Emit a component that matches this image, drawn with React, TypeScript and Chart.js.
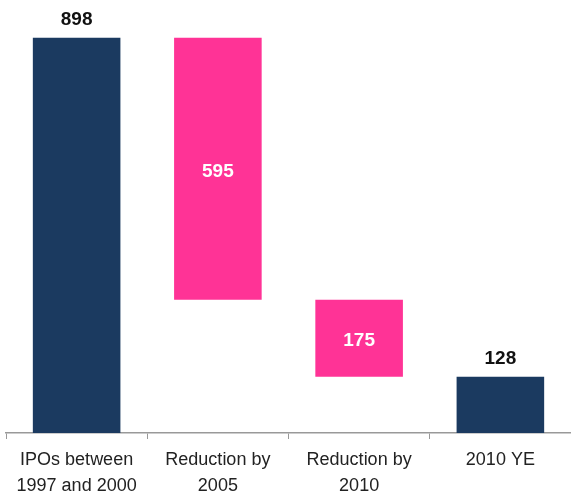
import React, { useEffect, useRef } from "react";
import { Chart, registerables } from "chart.js";
Chart.register(...registerables);

const categories: (string | string[])[] = [
  ["IPOs between", "1997 and 2000"],
  ["Reduction by", "2005"],
  ["Reduction by", "2010"],
  "2010 YE",
];
const barStarts = [0, 303, 128, 0];
const barEnds = [898, 898, 303, 128];
const labelValues = ["898", "595", "175", "128"];
const labelInside = [false, true, true, false];
const barColors = ["#1b3a60", "#ff3396", "#ff3396", "#1b3a60"];

const labelPlugin = {
  id: "wfLabels",
  afterDatasetsDraw(chart: any) {
    const ctx = chart.ctx;
    const meta = chart.getDatasetMeta(0);
    ctx.save();
    ctx.font = "bold 19px 'Liberation Sans', Arial, sans-serif";
    ctx.textAlign = "center";
    ctx.textBaseline = "middle";
    meta.data.forEach((bar: any, i: number) => {
      const { x, y, base } = bar.getProps(["x", "y", "base"], true);
      const top = Math.min(y, base);
      const bottom = Math.max(y, base);
      if (labelInside[i]) {
        ctx.fillStyle = "#ffffff";
        ctx.fillText(labelValues[i], x, (top + bottom) / 2 + 3);
      } else {
        ctx.fillStyle = "#111111";
        ctx.fillText(labelValues[i], x, top - 18);
      }
    });
    ctx.restore();
  },
};

export default function App() {
  const ref = useRef<HTMLCanvasElement>(null);
  useEffect(() => {
    if (!ref.current) return;
    const chart = new Chart(ref.current, {
      type: "bar",
      data: {
        labels: categories,
        datasets: [
          {
            data: barStarts.map((s, i) => [s, barEnds[i]]) as any,
            backgroundColor: barColors,
            borderWidth: 0,
            barPercentage: 0.62,
            categoryPercentage: 1,
          },
        ],
      },
      options: {
        animation: false,
        responsive: false,
        layout: { padding: { left: 6, right: 0, top: 0, bottom: 0 } },
        plugins: { legend: { display: false }, tooltip: { enabled: false } },
        scales: {
          x: {
            grid: {
              offset: true,
              drawOnChartArea: false,
              drawTicks: true,
              tickLength: 6,
              color: "#999999",
            },
            border: { color: "#999999", width: 1.5 },
            ticks: {
              color: "#222222",
              font: { family: "'Liberation Sans', Arial, sans-serif", size: 18, lineHeight: 1.45 },
              padding: 8,
              maxRotation: 0,
            },
            afterFit(scale: any) {
              scale.height = 63;
            },
          },
          y: { display: false, min: 0, max: 984 },
        },
      },
      plugins: [labelPlugin],
    });
    return () => chart.destroy();
  }, []);
  return (
    <div style={{ position: "absolute", left: 0, top: 0, width: 571, height: 496, background: "#fff" }}>
      <canvas ref={ref} width={571} height={496} style={{ display: "block" }} />
    </div>
  );
}
